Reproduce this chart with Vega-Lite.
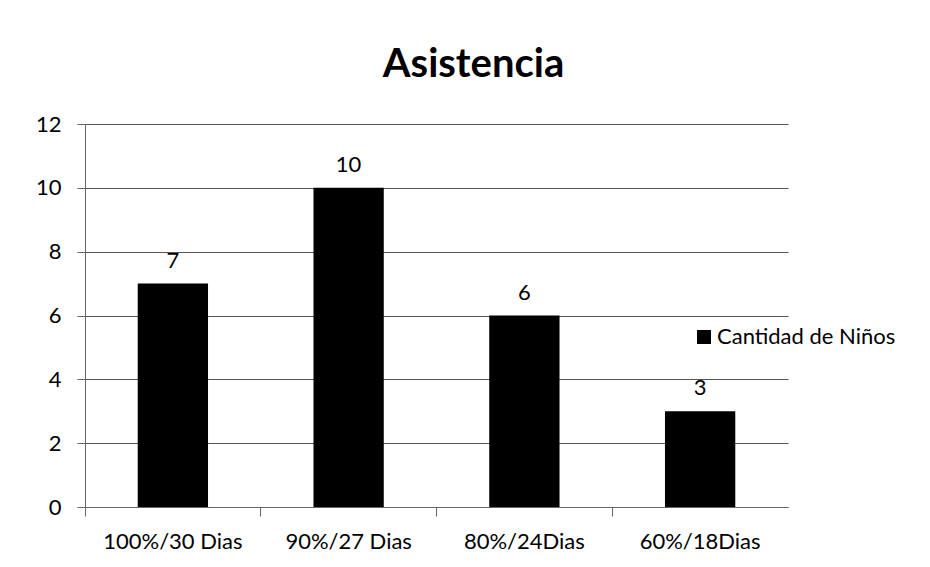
{
  "$schema": "https://vega.github.io/schema/vega-lite/v6.json",
  "autosize": "none",
  "width": 703,
  "height": 383,
  "padding": {"left": 85, "top": 124, "right": 142, "bottom": 60},
  "background": "white",
  "title": {
    "text": "Asistencia",
    "font": "Lato",
    "fontSize": 40,
    "fontWeight": "bold",
    "color": "black",
    "anchor": "middle",
    "dx": 37,
    "offset": 28
  },
  "config": {
    "view": {"stroke": null},
    "font": "Lato"
  },
  "data": {
    "values": [
      {"categoria": "100%/30 Dias", "ninos": 7},
      {"categoria": "90%/27 Dias", "ninos": 10},
      {"categoria": "80%/24Dias", "ninos": 6},
      {"categoria": "60%/18Dias", "ninos": 3}
    ]
  },
  "encoding": {
    "x": {
      "field": "categoria",
      "type": "nominal",
      "sort": null,
      "scale": {"paddingInner": 0.6, "paddingOuter": 0.3},
      "axis": {
        "title": null,
        "labelAngle": 0,
        "labelFontSize": 22,
        "labelColor": "black",
        "labelPadding": 15,
        "bandPosition": -0.75,
        "tickSize": 9,
        "tickColor": "#666",
        "domainColor": "#666",
        "grid": false
      }
    },
    "y": {
      "field": "ninos",
      "type": "quantitative",
      "scale": {"domain": [0, 12]},
      "axis": {
        "title": null,
        "values": [0, 2, 4, 6, 8, 10, 12],
        "labelFontSize": 22,
        "labelColor": "black",
        "labelPadding": 16,
        "tickSize": 8,
        "tickColor": "#666",
        "domainColor": "#666",
        "gridColor": "#555",
        "gridWidth": 1
      }
    }
  },
  "layer": [
    {
      "mark": {"type": "bar", "color": "black"},
      "encoding": {
        "color": {
          "datum": "Cantidad de Niños",
          "type": "nominal",
          "scale": {"range": ["black"]},
          "legend": {
            "title": null,
            "orient": "none",
            "legendX": 608,
            "legendY": 202,
            "padding": 0,
            "symbolType": "square",
            "symbolSize": 196,
            "symbolStrokeWidth": 0,
            "labelFontSize": 22,
            "labelLimit": 400,
            "labelColor": "black",
            "labelOffset": 2
          }
        }
      }
    },
    {
      "mark": {"type": "text", "baseline": "alphabetic", "dy": -16, "fontSize": 22, "color": "black"},
      "encoding": {
        "text": {"field": "ninos", "type": "quantitative"}
      }
    }
  ]
}
